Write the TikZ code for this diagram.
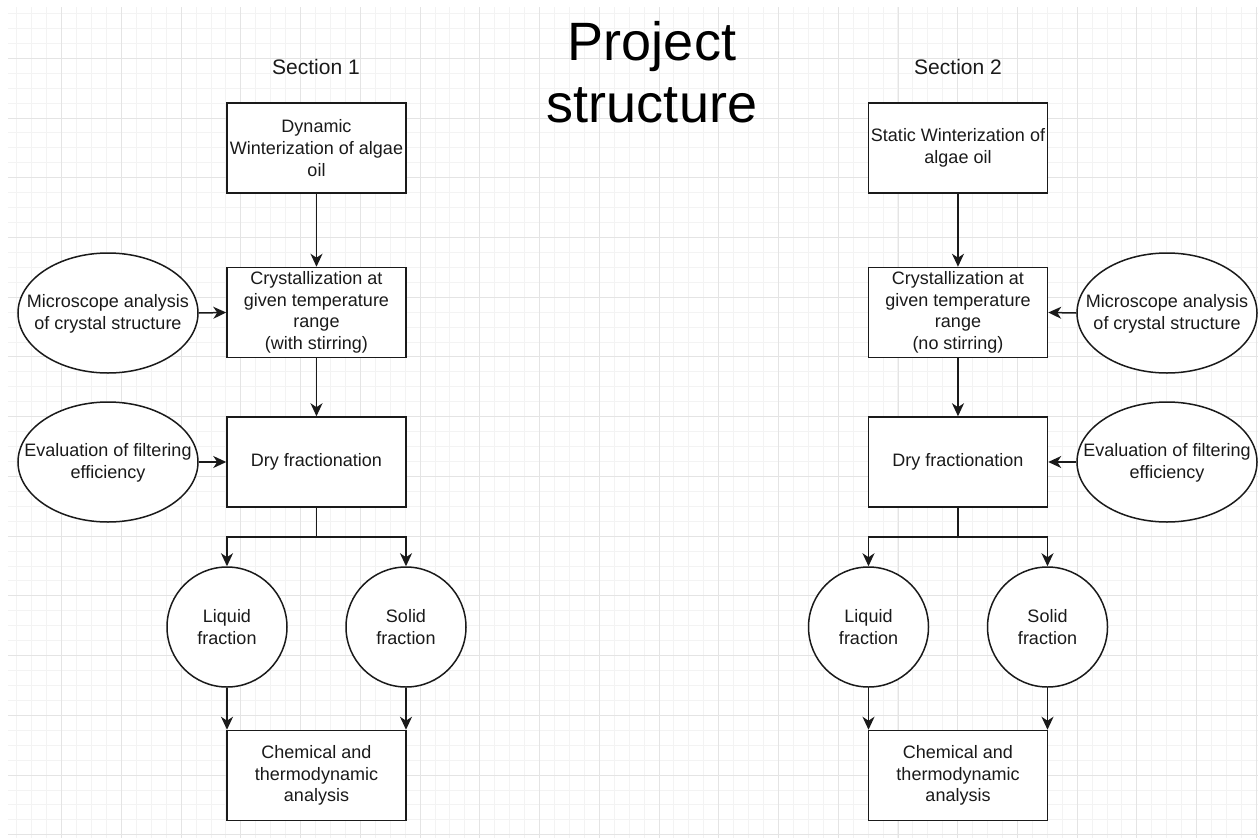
\documentclass[tikz,border=0pt]{standalone}
\usepackage{fontspec}
\setmainfont{Liberation Sans}
\usetikzlibrary{shapes.geometric,arrows.meta}
\definecolor{gridminor}{HTML}{F3F3F3}
\definecolor{gridmajor}{HTML}{E4E4E4}
\definecolor{ink}{HTML}{1A1A1A}
\tikzset{
  bodyfont/.style={font=\fontsize{18pt}{21.6pt}\selectfont},
  stepbox/.style={draw=ink, line width=1.5pt, fill=white, minimum width=179pt, minimum height=90pt, align=center, inner sep=0pt, bodyfont, text=ink},
  oval/.style={ellipse, draw=ink, line width=1.5pt, fill=white, minimum width=180pt, minimum height=120pt, inner sep=0pt},
  ovaltext/.style={bodyfont, align=center, text=ink, inner sep=0pt},
  roundnode/.style={circle, draw=ink, line width=1.5pt, fill=white, minimum size=120pt, align=center, inner sep=0pt, bodyfont, text=ink},
  arr/.style={draw=ink, line width=1.5pt, -{Stealth[length=13pt,width=12pt,inset=4pt]}},
  conn/.style={draw=ink, line width=1.5pt},
  sectitle/.style={font=\fontsize{21pt}{25pt}\selectfont, text=ink, anchor=base},
}
\begin{document}
\begin{tikzpicture}[x=1pt,y=-1pt]
\useasboundingbox (0,0) rectangle (1258,838);
\fill[white] (0,0) rectangle (1258,838);
% grid
\begin{scope}
\clip (8,7) rectangle (1258,838);
\foreach \i in {1,...,84} {
  \draw[gridminor, line width=1pt] ({2+14.933*\i},0) -- ({2+14.933*\i},838);
}
\foreach \j in {-3,...,52} {
  \draw[gridminor, line width=1pt] (0,{58.3+14.933*\j}) -- (1258,{58.3+14.933*\j});
}
\foreach \i in {0,...,21} {
  \draw[gridmajor, line width=1pt] ({2+59.733*\i},0) -- ({2+59.733*\i},838);
}
\foreach \j in {-1,...,13} {
  \draw[gridmajor, line width=1pt] (0,{58.3+59.733*\j}) -- (1258,{58.3+59.733*\j});
}
\end{scope}

% title
\node[font=\fontsize{54pt}{62pt}\selectfont, align=center, text=black, inner sep=0pt] (title) at (652,72.5) {Project\\structure};
\node[sectitle] (s1) at (316,74) {Section 1};
\node[sectitle] (s2) at (958,74) {Section 2};

% ---------- Section 1 ----------
\node[stepbox] (a1) at (316.5,148) {Dynamic\\Winterization of algae\\oil};
\node[stepbox] (a2) at (316.5,312.5) {Crystallization at\\given temperature\\range\\(with stirring)};
\node[stepbox] (a3) at (316.5,462) {Dry fractionation};
\node[roundnode] (aliq) at (227,627) {Liquid\\fraction};
\node[roundnode] (asol) at (406,627) {Solid\\fraction};
\node[stepbox] (a4) at (316.5,775.5) {Chemical and\\thermodynamic\\analysis};
\node[oval] (am) at (108,313) {};
\node[ovaltext] (amt) at (108,314) {Microscope analysis\\of crystal structure};
\node[oval] (ae) at (108,462) {};
\node[ovaltext] (aet) at (108,463) {Evaluation of filtering\\efficiency};
\coordinate (aj) at (316.5,537);

\draw[arr] (a1.south) -- (a2.north);
\draw[arr] (a2.south) -- (a3.north);
\draw[arr] (am.east) -- (a2.west);
\draw[arr] (ae.east) -- (a3.west);
\draw[conn] (a3.south) -- (aj);
\draw[arr] (aj) -| (aliq.north);
\draw[arr] (aj) -| (asol.north);
\draw[arr] (aliq.south) -- (aliq.south |- a4.north);
\draw[arr] (asol.south) -- (asol.south |- a4.north);

% ---------- Section 2 ----------
\node[stepbox] (b1) at (958,148) {Static Winterization of\\algae oil};
\node[stepbox] (b2) at (958,312.5) {Crystallization at\\given temperature\\range\\(no stirring)};
\node[stepbox] (b3) at (958,462) {Dry fractionation};
\node[roundnode] (bliq) at (868.5,627) {Liquid\\fraction};
\node[roundnode] (bsol) at (1047.5,627) {Solid\\fraction};
\node[stepbox] (b4) at (958,775.5) {Chemical and\\thermodynamic\\analysis};
\node[oval] (bm) at (1167,313) {};
\node[ovaltext] (bmt) at (1167,314) {Microscope analysis\\of crystal structure};
\node[oval] (be) at (1167,462) {};
\node[ovaltext] (bet) at (1167,463) {Evaluation of filtering\\efficiency};
\coordinate (bj) at (958,537);

\draw[arr] (b1.south) -- (b2.north);
\draw[arr] (b2.south) -- (b3.north);
\draw[arr] (bm.west) -- (b2.east);
\draw[arr] (be.west) -- (b3.east);
\draw[conn] (b3.south) -- (bj);
\draw[arr] (bj) -| (bliq.north);
\draw[arr] (bj) -| (bsol.north);
\draw[arr] (bliq.south) -- (bliq.south |- b4.north);
\draw[arr] (bsol.south) -- (bsol.south |- b4.north);
\end{tikzpicture}
\end{document}
